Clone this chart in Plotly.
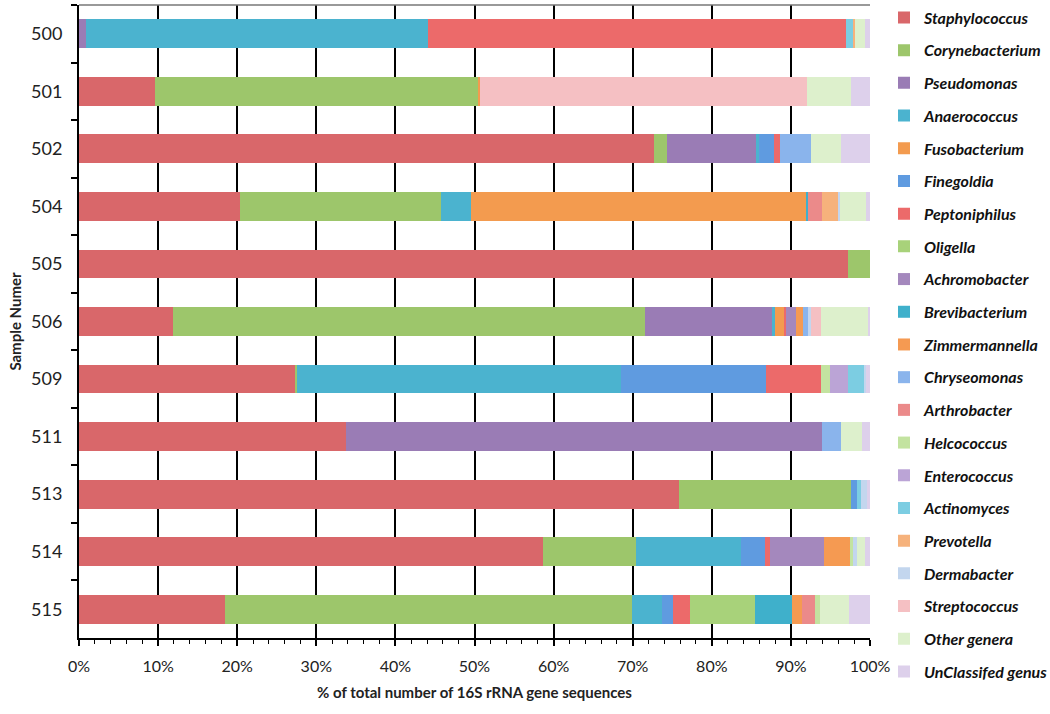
import plotly.graph_objects as go

samples = ["500", "501", "502", "504", "505", "506", "509", "511", "513", "514", "515"]

# % of total 16S rRNA gene sequences per sample, one list per genus (legend order)
Staphylococcus = [0, 9.6, 72.7, 20.4, 97.2, 11.9, 27.4, 33.8, 75.9, 58.6, 18.4]
Corynebacterium = [0, 40.9, 1.6, 25.4, 2.8, 59.7, 0.2, 0, 21.7, 11.8, 51.5]
Pseudomonas = [0.9, 0, 11.3, 0, 0, 16.0, 0, 60.1, 0, 0, 0]
Anaerococcus = [43.2, 0, 0.4, 3.7, 0, 0.4, 40.9, 0, 0, 13.3, 3.8]
Fusobacterium = [0, 0.2, 0, 42.5, 0, 1.2, 0, 0, 0, 0, 0]
Finegoldia = [0, 0, 1.9, 0, 0, 0, 18.4, 0, 0.8, 3.0, 1.4]
Peptoniphilus = [52.9, 0, 0.7, 0, 0, 0.2, 6.9, 0, 0, 0.6, 2.2]
Oligella = [0, 0, 0, 0, 0, 0, 0, 0, 0, 0, 8.2]
Achromobacter = [0, 0, 0, 0, 0, 1.2, 0, 0, 0, 6.9, 0]
Brevibacterium = [0, 0, 0, 0.2, 0, 0, 0, 0, 0, 0, 4.6]
Zimmermannella = [0, 0, 0, 0, 0, 0.9, 0, 0, 0, 3.3, 1.3]
Chryseomonas = [0, 0, 3.9, 0, 0, 0.6, 0, 2.4, 0, 0, 0]
Arthrobacter = [0, 0, 0, 1.7, 0, 0, 0, 0, 0, 0, 1.6]
Helcococcus = [0, 0, 0, 0, 0, 0, 1.1, 0, 0, 0.3, 0.7]
Enterococcus = [0, 0, 0, 0, 0, 0, 2.3, 0, 0, 0, 0]
Actinomyces = [0.8, 0, 0, 0, 0, 0, 2.0, 0, 0.5, 0, 0]
Prevotella = [0.3, 0, 0, 2.1, 0, 0, 0, 0, 0, 0, 0]
Dermabacter = [0, 0, 0, 0.2, 0, 0.4, 0.3, 0, 0.7, 0.6, 0]
Streptococcus = [0, 41.3, 0, 0, 0, 1.3, 0, 0, 0, 0, 0]
Other_genera = [1.3, 5.6, 3.8, 3.3, 0, 5.9, 0, 2.7, 0, 1.0, 3.7]
UnClassified_genus = [0.6, 2.4, 3.7, 0.5, 0, 0.3, 0.5, 1.0, 0.4, 0.6, 2.6]

series = [
    ("Staphylococcus", Staphylococcus, "#d9676a"),
    ("Corynebacterium", Corynebacterium, "#9dc66b"),
    ("Pseudomonas", Pseudomonas, "#9a7cb5"),
    ("Anaerococcus", Anaerococcus, "#4bb3cf"),
    ("Fusobacterium", Fusobacterium, "#f39b4f"),
    ("Finegoldia", Finegoldia, "#5f9be0"),
    ("Peptoniphilus", Peptoniphilus, "#ec6a6a"),
    ("Oligella", Oligella, "#a8d27a"),
    ("Achromobacter", Achromobacter, "#a488bd"),
    ("Brevibacterium", Brevibacterium, "#3fb0cb"),
    ("Zimmermannella", Zimmermannella, "#f59a52"),
    ("Chryseomonas", Chryseomonas, "#8ab4ec"),
    ("Arthrobacter", Arthrobacter, "#eb8a8a"),
    ("Helcococcus", Helcococcus, "#c3e3a0"),
    ("Enterococcus", Enterococcus, "#bba4d6"),
    ("Actinomyces", Actinomyces, "#7ccde2"),
    ("Prevotella", Prevotella, "#f6b27c"),
    ("Dermabacter", Dermabacter, "#c3d6ee"),
    ("Streptococcus", Streptococcus, "#f5c0c3"),
    ("Other genera", Other_genera, "#ddf0cc"),
    ("UnClassifed genus", UnClassified_genus, "#ddd0eb"),
]

fig = go.Figure()
for i, (name, vals, col) in enumerate(series):
    fig.add_trace(go.Bar(
        y=samples, x=vals, orientation="h", name="<b><i>%s</i></b>" % name,
        marker=dict(color=col, line=dict(width=0)),
        legendgroup="g%d" % i,
    ))

fig.update_layout(
    barmode="stack", bargap=0.5,
    width=1050, height=714,
    # autoexpand off: otherwise the wide legend pushes the right margin and shrinks the plot
    margin=dict(l=79, r=180, t=5, b=76, autoexpand=False),
    plot_bgcolor="white", paper_bgcolor="white",
    font=dict(family="Lato", size=16, color="#222"),
    legend=dict(
        x=1.0177, y=1.007, xanchor="left", yanchor="top",
        traceorder="grouped", tracegroupgap=8.9,
        font=dict(size=16, color="#111"), itemwidth=30,
        bgcolor="rgba(0,0,0,0)", maxheight=714,
    ),
    shapes=[dict(type="line", xref="paper", yref="paper", x0=0, x1=1, y0=1, y1=1,
                 line=dict(color="#777", width=1.5))],
)
fig.update_xaxes(
    range=[0, 100], dtick=10, ticksuffix="%",
    showgrid=True, gridcolor="black", gridwidth=1.5,
    showline=True, linecolor="black", linewidth=2,
    ticks="outside", ticklen=6, tickcolor="black", tickwidth=1.5, ticklabelstandoff=7,
    minor=dict(dtick=2, ticks="outside", ticklen=4, tickcolor="black", tickwidth=1.2, showgrid=False),
    title=dict(text="<b>% of total number of 16S rRNA gene sequences</b>", font=dict(size=15), standoff=13),
    zeroline=False, automargin=False,
)
fig.update_yaxes(
    autorange="reversed", type="category",
    showline=True, linecolor="black", linewidth=2,
    ticks="outside", ticklen=6, tickcolor="black", tickwidth=1.5, tickson="boundaries",
    tickfont=dict(size=18), ticklabelstandoff=11,
    title=dict(text="<b>Sample Numer</b>", font=dict(size=15), standoff=6),
    showgrid=False, automargin=False,
)

# drop the default body margin / scrollbars so the figure fills the window exactly
fig.write_html(
    "out.html",
    config={"displayModeBar": False},
    post_script="document.body.style.margin='0';document.body.style.overflow='hidden';"
                "document.documentElement.style.overflow='hidden';",
)
